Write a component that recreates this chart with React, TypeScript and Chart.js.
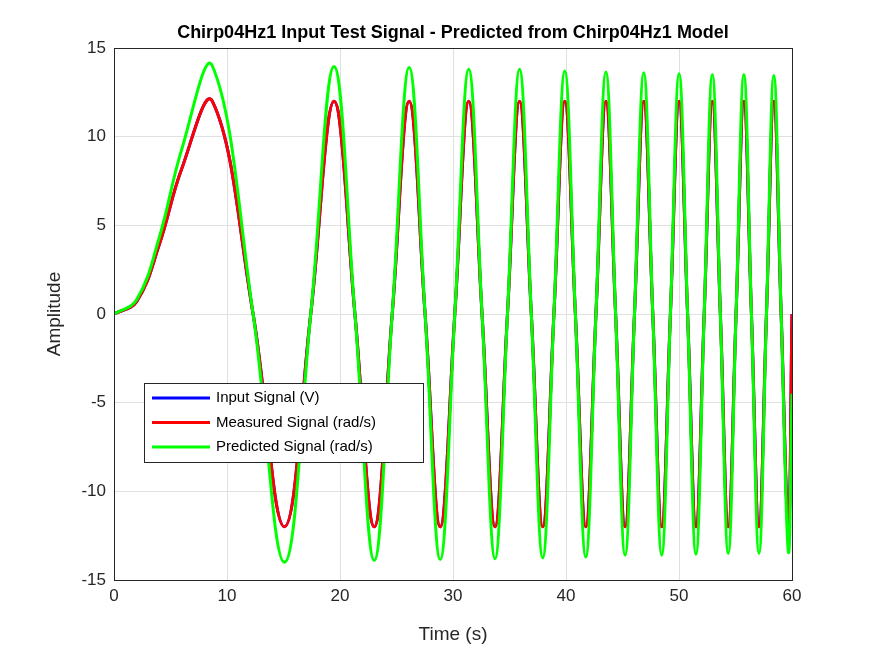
import React, { useEffect, useRef } from "react";
import { Chart, registerables } from "chart.js";
Chart.register(...registerables);

// Key points (time in s): starts, extrema and zero crossings
const times = [0, 2, 4, 6, 8.7, 12.31, 15.08, 17.41, 19.47, 21.32, 23.03, 24.62, 26.12, 27.53, 28.87, 30.16, 31.39, 32.57, 33.72, 34.82, 35.89, 36.93, 37.94, 38.93, 39.89, 40.83, 41.75, 42.65, 43.53, 44.39, 45.23, 46.06, 46.88, 47.68, 48.47, 49.24, 50.01, 50.76, 51.5, 52.23, 52.95, 53.66, 54.36, 55.05, 55.74, 56.41, 57.08, 57.74, 58.39, 59.04, 59.68, 60];
const measured = [0, 0.7, 3.9, 8.2, 12, 0, -12, 0, 12, 0, -12, 0, 12, 0, -12, 0, 12, 0, -12, 0, 12, 0, -12, 0, 12, 0, -12, 0, 12, 0, -12, 0, 12, 0, -12, 0, 12, 0, -12, 0, 12, 0, -12, 0, 12, 0, -12, 0, 12, 0, -12, 0];
const inputSig = measured;
const predicted = [0, 0.8, 4.3, 9.3, 14, 0, -14, 0, 13.95, 0, -13.9, 0, 13.9, 0, -13.85, 0, 13.8, 0, -13.8, 0, 13.8, 0, -13.75, 0, 13.7, 0, -13.7, 0, 13.65, 0, -13.6, 0, 13.6, 0, -13.6, 0, 13.55, 0, -13.55, 0, 13.5, 0, -13.5, 0, 13.5, 0, -13.5, 0, 13.45, 0, -13.4, -4.5];
const xTicks = [0, 10, 20, 30, 40, 50, 60];
const yTicks = [-15, -10, -5, 0, 5, 10, 15];
const legendLabels = ["Input Signal (V)", "Measured Signal (rad/s)", "Predicted Signal (rad/s)"];
const colors = ["#0000ff", "#ff0000", "#00ff00"];

const pts = (ys: number[]) => times.map((t, i) => ({ x: t, y: ys[i] }));
const FONT = "'Liberation Sans', Arial, sans-serif";

export default function App() {
  const ref = useRef<HTMLCanvasElement>(null);
  useEffect(() => {
    document.body.style.margin = "0";
    const deco = {
      id: "deco",
      afterDraw(c: any) {
        const ctx = c.ctx, a = c.chartArea;
        ctx.save();
        ctx.strokeStyle = "#262626"; ctx.lineWidth = 1;
        ctx.strokeRect(a.left + 0.5, a.top + 0.5, a.right - a.left, a.bottom - a.top);
        ctx.fillStyle = "#000"; ctx.font = `bold 18px ${FONT}`; ctx.textAlign = "center"; ctx.textBaseline = "middle";
        ctx.fillText("Chirp04Hz1 Input Test Signal - Predicted from Chirp04Hz1 Model", (a.left + a.right) / 2, 33);
        ctx.fillStyle = "#262626"; ctx.font = `19px ${FONT}`;
        ctx.fillText("Time (s)", (a.left + a.right) / 2, 635);
        ctx.save(); ctx.translate(55, (a.top + a.bottom) / 2); ctx.rotate(-Math.PI / 2);
        ctx.fillText("Amplitude", 0, 0); ctx.restore();
        const lx = a.left + 30, ly = a.top + 335, w = 279, h = 79;
        ctx.fillStyle = "#fff"; ctx.fillRect(lx, ly, w, h);
        ctx.strokeStyle = "#262626"; ctx.lineWidth = 1; ctx.strokeRect(lx + 0.5, ly + 0.5, w, h);
        ctx.font = `15px ${FONT}`; ctx.textAlign = "left";
        legendLabels.forEach((l, i) => {
          const y = ly + 15 + i * 24.5;
          ctx.strokeStyle = colors[i]; ctx.lineWidth = 3;
          ctx.beginPath(); ctx.moveTo(lx + 8, y); ctx.lineTo(lx + 66, y); ctx.stroke();
          ctx.fillStyle = "#000"; ctx.fillText(l, lx + 72, y);
        });
        ctx.restore();
      },
    };
    const mk = (d: number[], i: number, order: number) => ({
      data: pts(d), borderColor: colors[i], borderWidth: 3, pointRadius: 0, showLine: true,
      tension: 0.4, order, fill: false,
    });
    const chart = new Chart(ref.current!, {
      type: "scatter",
      data: { datasets: [mk(inputSig, 0, 2), mk(measured, 1, 1), mk(predicted, 2, 0)] as any },
      options: {
        animation: false, responsive: false,
        layout: { padding: { top: 48, right: 83, left: 0, bottom: 0 } },
        plugins: { legend: { display: false }, tooltip: { enabled: false } },
        scales: {
          x: {
            type: "linear", min: 0, max: 60,
            afterBuildTicks: (s: any) => { s.ticks = xTicks.map(v => ({ value: v })); },
            afterFit: (s: any) => { s.height = 76; },
            grid: { color: "#e0e0e0", drawTicks: false },
            border: { display: false },
            ticks: { color: "#262626", font: { size: 17, family: FONT }, padding: 6 },
          },
          y: {
            min: -15, max: 15,
            afterBuildTicks: (s: any) => { s.ticks = yTicks.map(v => ({ value: v })); },
            afterFit: (s: any) => { s.width = 114; },
            grid: { color: "#e0e0e0", drawTicks: false },
            border: { display: false },
            ticks: { color: "#262626", font: { size: 17, family: FONT }, padding: 8 },
          },
        },
      },
      plugins: [deco],
    });
    return () => chart.destroy();
  }, []);
  return <canvas ref={ref} width={875} height={656} style={{ display: "block" }} />;
}
